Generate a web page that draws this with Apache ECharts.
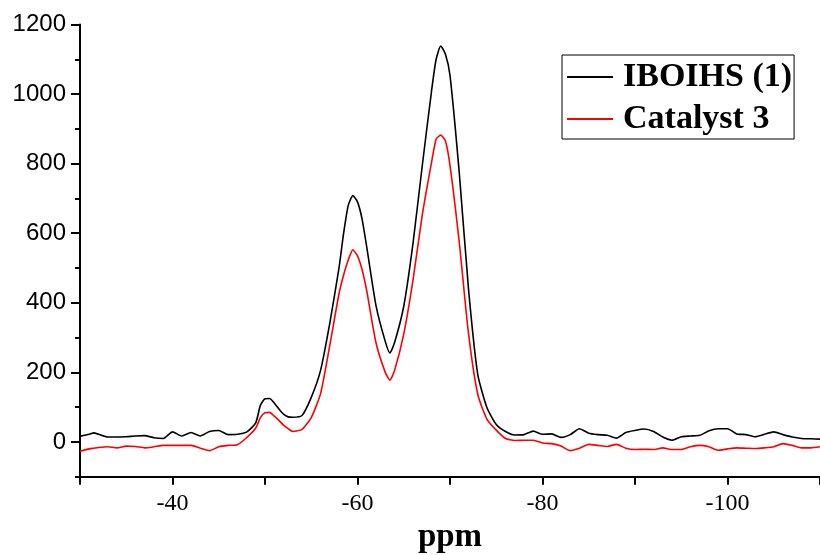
<!DOCTYPE html>
<html>
<head>
<meta charset="utf-8">
<script src="https://cdn.jsdelivr.net/npm/echarts@6/dist/echarts.min.js"></script>
<style>html,body{margin:0;padding:0;background:#fff}#c{width:820px;height:555px}</style>
</head>
<body>
<div id="c"></div>
<script>
var ppm = [-30,-31,-31.5,-32,-33,-34,-35,-36,-37,-38,-39,-40,-41,-42,-43,-44,-45,-46,-47,-48,-49,-49.5,-50,-50.5,-51,-51.5,-52,-52.5,-53,-54,-55,-56,-57,-58,-58.5,-59,-59.5,-60,-60.5,-61,-62,-63,-63.5,-64,-65,-66,-67,-68,-68.5,-69,-69.5,-70,-71,-72,-73,-74,-75,-76,-77,-78,-79,-80,-81,-82,-83,-84,-85,-86,-87,-88,-89,-90,-91,-92,-93,-94,-95,-96,-97,-98,-99,-100,-101,-102,-103,-104,-105,-106,-107,-108,-109,-110];
var iboihs = [16,22,26,22,14,14,15,17,18,12,10,29,17,27,17,30,33,21,22,28,55,105,124,125,112,95,80,72,71,76,128,205,341,500,600,680,708,690,640,560,392,289,256,285,390,571,794,1008,1100,1138,1115,1054,774,440,194,98,50,30,20,21,31,22,23,13,21,38,25,21,19,11,27,33,37,30,14,5,15,17,19,32,38,38,23,21,15,22,29,21,14,10,9,8];
var catalyst3 = [-27,-20,-18,-16,-14,-17,-12,-13,-17,-14,-10,-10,-10,-10,-18,-25,-14,-10,-8,12,40,70,84,85,74,62,48,38,30,36,70,138,277,426,480,523,552,535,495,434,285,200,178,205,310,465,652,803,870,882,866,795,574,312,137,65,34,10,4,5,5,-3,-5,-12,-25,-18,-7,-10,-13,-7,-18,-22,-21,-22,-17,-22,-22,-14,-10,-14,-24,-20,-17,-18,-19,-17,-14,-5,-10,-17,-17,-14];
var xLabels = [-40,-60,-80,-100];
var yLabels = [0,200,400,600,800,1000,1200];

function pairs(xs, ys){ return xs.map(function(x,i){ return [x, ys[i]]; }); }

var chart = echarts.init(document.getElementById('c'));
chart.setOption({
  animation: false,
  backgroundColor: '#ffffff',
  grid: { left: 80, right: 0, top: 24.5, bottom: 78.3, containLabel: false, outerBoundsMode: 'none' },
  legend: {
    orient: 'vertical',
    left: 562, top: 55,
    padding: [5, 2, 3, 5],
    itemGap: 8,
    icon: 'rect',
    itemWidth: 46, itemHeight: 2,
    borderColor: '#000', borderWidth: 1,
    textStyle: { fontFamily: 'Liberation Serif', fontWeight: 'bold', fontSize: 34, color: '#000', padding: [0,0,0,5] },
    data: ['IBOIHS (1)', 'Catalyst 3']
  },
  xAxis: {
    type: 'value', min: -110, max: -30, interval: 10, inverse: true,
    name: 'ppm', nameLocation: 'middle', nameGap: 44,
    nameTextStyle: { fontFamily: 'Liberation Serif', fontWeight: 'bold', fontSize: 33, color: '#000' },
    axisLine: { show: true, onZero: false, lineStyle: { color: '#000', width: 2 } },
    axisTick: { show: true, inside: false, length: 8, lineStyle: { color: '#000', width: 2 } },
    axisLabel: { fontFamily: 'Liberation Serif', fontSize: 24, color: '#000', margin: 15,
      formatter: function(v){ return xLabels.indexOf(v) >= 0 ? String(v) : ''; } },
    splitLine: { show: false }
  },
  yAxis: [{
    type: 'value', min: -100, max: 1200, interval: 100,
    axisLine: { show: true, onZero: false, lineStyle: { color: '#000', width: 2 } },
    axisTick: { show: true, length: 5, lineStyle: { color: '#000', width: 2 } },
    axisLabel: { show: false },
    splitLine: { show: false }
  }, {
    type: 'value', min: -100, max: 1200, interval: 100, position: 'left',
    axisLine: { show: false },
    axisTick: { show: true, length: 9, customValues: yLabels, lineStyle: { color: '#000', width: 2 } },
    axisLabel: { fontFamily: 'Liberation Sans', fontSize: 24, color: '#000', margin: 14, customValues: yLabels,
      formatter: function(v){ return yLabels.indexOf(v) >= 0 ? String(v) : ''; } },
    splitLine: { show: false }
  }],
  series: [{
    name: 'IBOIHS (1)', type: 'line', symbol: 'none', smooth: 0.2,
    lineStyle: { color: '#000', width: 1.6 }, itemStyle: { color: '#000' },
    data: pairs(ppm, iboihs)
  }, {
    name: 'Catalyst 3', type: 'line', symbol: 'none', smooth: 0.2,
    lineStyle: { color: '#ff0000', width: 1.6 }, itemStyle: { color: '#ff0000' },
    data: pairs(ppm, catalyst3)
  }]
});
</script>
</body>
</html>
